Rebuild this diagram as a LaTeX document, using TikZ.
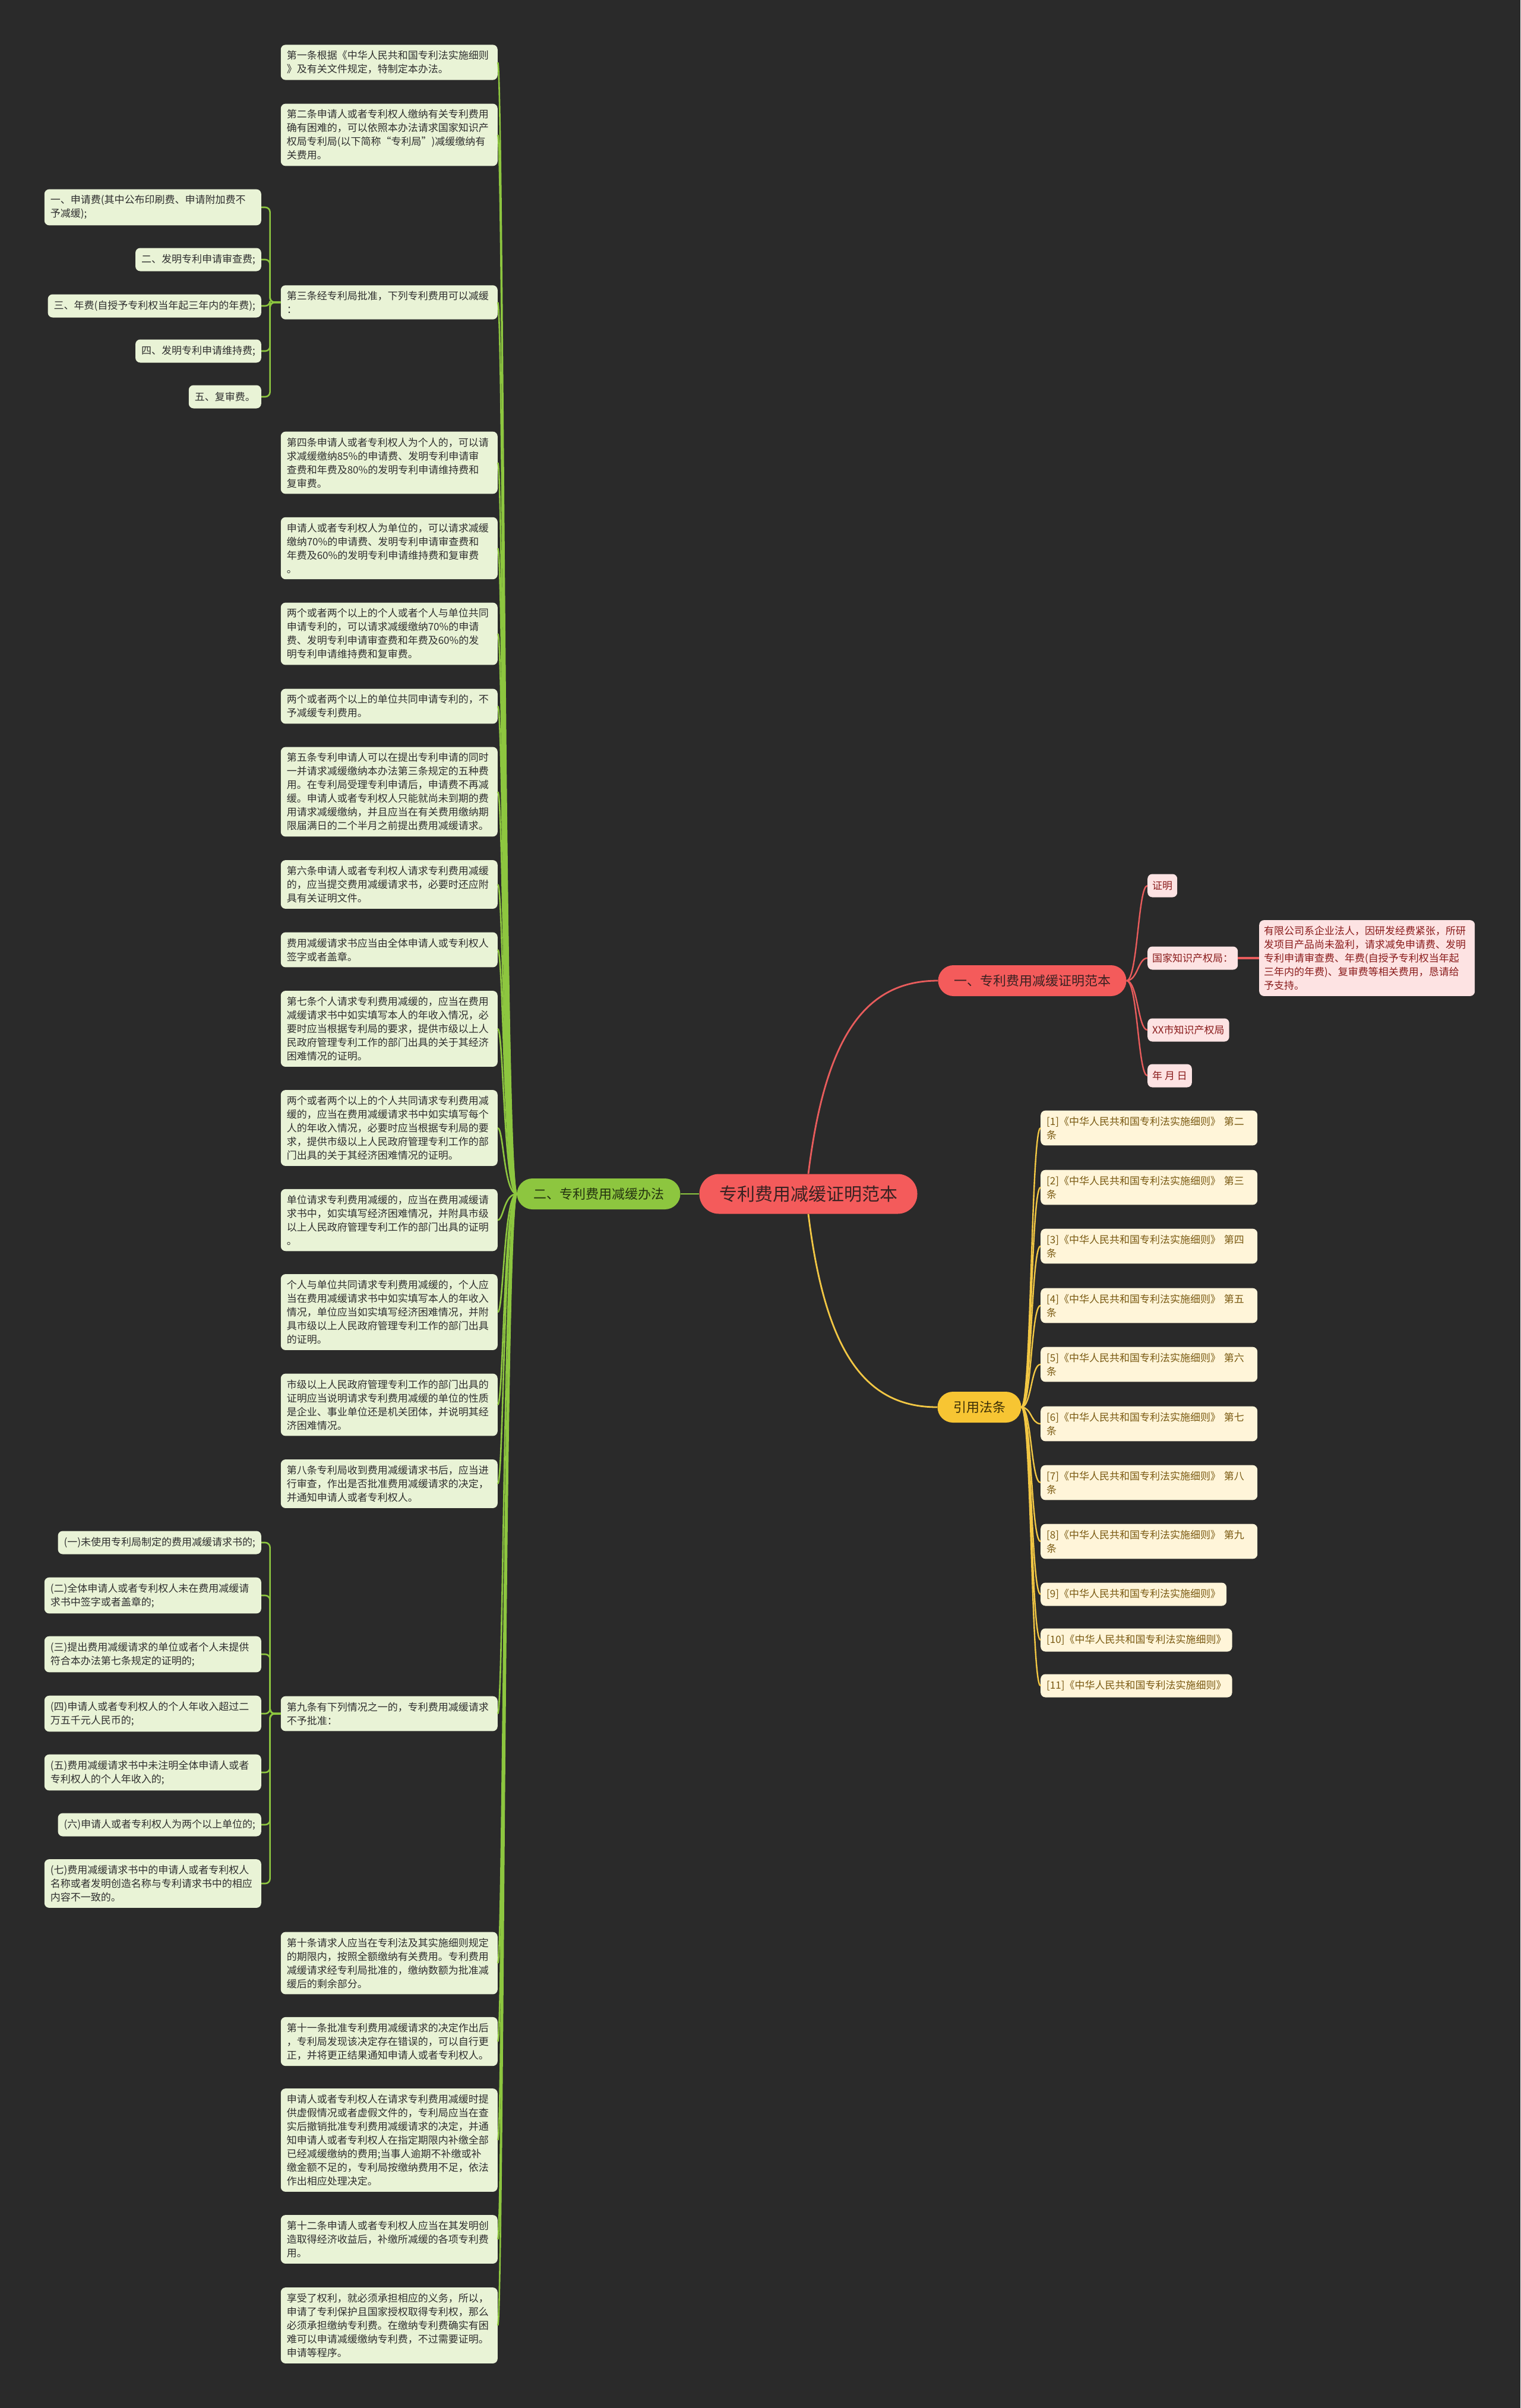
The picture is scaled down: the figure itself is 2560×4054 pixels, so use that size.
\documentclass[tikz,border=0pt]{standalone}
\usepackage{fontspec}
\usepackage{tikz}
\usetikzlibrary{calc}
\newfontfamily\cjk{Noto Sans CJK SC}
\definecolor{BgGray}{HTML}{2A2A2A}
\definecolor{RootRed}{HTML}{F45B5B}
\definecolor{RootText}{HTML}{3A2222}
\definecolor{LineRed}{HTML}{E85C5C}
\definecolor{PinkFill}{HTML}{FDE3E3}
\definecolor{PinkText}{HTML}{8A1C1C}
\definecolor{BranchGreen}{HTML}{8DC63F}
\definecolor{BranchText}{HTML}{24330F}
\definecolor{LeafGreen}{HTML}{E9F3D6}
\definecolor{LeafText}{HTML}{2F2F2F}
\definecolor{BranchGold}{HTML}{F7C533}
\definecolor{GoldText}{HTML}{3B2E06}
\definecolor{CreamFill}{HTML}{FFF5D9}
\definecolor{CreamText}{HTML}{7A5A12}
\definecolor{LineGold}{HTML}{F2C744}

\begin{document}
\begin{tikzpicture}[x=1pt,y=-1pt,
  leaf/.style={fill=LeafGreen,text=LeafText,rounded corners=8pt,inner xsep=10pt,
    inner ysep=10pt,align=left,font=\cjk\fontsize{17}{23}\selectfont},
  leafw/.style={leaf,text width=345pt},
  leafs/.style={leaf,minimum height=39pt},
  pink/.style={fill=PinkFill,text=PinkText,rounded corners=8pt,inner xsep=8pt,
    inner ysep=10pt,align=left,minimum height=39pt,font=\cjk\fontsize{17}{23}\selectfont},
  cream/.style={fill=CreamFill,text=CreamText,rounded corners=8pt,inner xsep=10pt,
    inner ysep=10pt,align=left,minimum height=39pt,font=\cjk\fontsize{17}{23}\selectfont},
  creamw/.style={cream,text width=345pt},
  pill/.style={rounded corners=26pt,minimum height=52pt,inner sep=0pt,
    font=\cjk\fontsize{22}{26}\selectfont},
  greenline/.style={BranchGreen,line width=2.6pt},
  redline/.style={LineRed,line width=2.4pt},
  goldline/.style={LineGold,line width=2.4pt}]

  % canvas
  \fill[BgGray] (0,0) rectangle (2560,4054);
  \useasboundingbox (0,0) rectangle (2560,4054);

  % centre and main branches
  \node[fill=RootRed,text=RootText,rounded corners=33pt,minimum width=367pt,
    minimum height=67pt,inner sep=0pt,font=\cjk\fontsize{30}{34}\selectfont]
    (root) at (1361,2010) {专利费用减缓证明范本};
  \node[pill,fill=BranchGreen,text=BranchText,minimum width=275pt] (gb) at (1008,2010) {二、专利费用减缓办法};
  \node[pill,fill=RootRed,text=RootText,minimum width=317pt] (rb) at (1738,1651) {一、专利费用减缓证明范本};
  \node[pill,fill=BranchGold,text=GoldText,minimum width=141pt] (yb) at (1649,2369) {引用法条};

  \draw[greenline] (root.west) -- (gb.east);
  \draw[redline,line width=2.8pt] (root.north) .. controls ($(root.north)+(29,-236)$) and ($(rb.west)+(-120,0)$) .. (rb.west);
  \draw[goldline,line width=2.8pt] (root.south) .. controls ($(root.south)+(29,236)$) and ($(yb.west)+(-120,0)$) .. (yb.west);

  % left branch: articles
  \node[leafw,anchor=east] (l1) at (838,105) {第一条根据《中华人民共和国专利法实施细则\\》及有关文件规定，特制定本办法。};
  \node[leafw,anchor=east] (l2) at (838,227) {第二条申请人或者专利权人缴纳有关专利费用\\确有困难的，可以依照本办法请求国家知识产\\权局专利局(以下简称“专利局”)减缓缴纳有\\关费用。};
  \node[leafw,anchor=east] (l3) at (838,509) {第三条经专利局批准，下列专利费用可以减缓\\：};
  \node[leafw,anchor=east] (l4) at (838,779) {第四条申请人或者专利权人为个人的，可以请\\求减缓缴纳85\%的申请费、发明专利申请审\\查费和年费及80\%的发明专利申请维持费和\\复审费。};
  \node[leafw,anchor=east] (l5) at (838,923) {申请人或者专利权人为单位的，可以请求减缓\\缴纳70\%的申请费、发明专利申请审查费和\\年费及60\%的发明专利申请维持费和复审费\\。};
  \node[leafw,anchor=east] (l6) at (838,1067) {两个或者两个以上的个人或者个人与单位共同\\申请专利的，可以请求减缓缴纳70\%的申请\\费、发明专利申请审查费和年费及60\%的发\\明专利申请维持费和复审费。};
  \node[leafw,anchor=east] (l7) at (838,1189) {两个或者两个以上的单位共同申请专利的，不\\予减缓专利费用。};
  \node[leafw,anchor=east] (l8) at (838,1333) {第五条专利申请人可以在提出专利申请的同时\\一并请求减缓缴纳本办法第三条规定的五种费\\用。在专利局受理专利申请后，申请费不再减\\缓。申请人或者专利权人只能就尚未到期的费\\用请求减缓缴纳，并且应当在有关费用缴纳期\\限届满日的二个半月之前提出费用减缓请求。};
  \node[leafw,anchor=east] (l9) at (838,1489) {第六条申请人或者专利权人请求专利费用减缓\\的，应当提交费用减缓请求书，必要时还应附\\具有关证明文件。};
  \node[leafw,anchor=east] (l10) at (838,1599) {费用减缓请求书应当由全体申请人或专利权人\\签字或者盖章。};
  \node[leafw,anchor=east] (l11) at (838,1732) {第七条个人请求专利费用减缓的，应当在费用\\减缓请求书中如实填写本人的年收入情况，必\\要时应当根据专利局的要求，提供市级以上人\\民政府管理专利工作的部门出具的关于其经济\\困难情况的证明。};
  \node[leafw,anchor=east] (l12) at (838,1899) {两个或者两个以上的个人共同请求专利费用减\\缓的，应当在费用减缓请求书中如实填写每个\\人的年收入情况，必要时应当根据专利局的要\\求，提供市级以上人民政府管理专利工作的部\\门出具的关于其经济困难情况的证明。};
  \node[leafw,anchor=east] (l13) at (838,2054) {单位请求专利费用减缓的，应当在费用减缓请\\求书中，如实填写经济困难情况，并附具市级\\以上人民政府管理专利工作的部门出具的证明\\。};
  \node[leafw,anchor=east] (l14) at (838,2209) {个人与单位共同请求专利费用减缓的，个人应\\当在费用减缓请求书中如实填写本人的年收入\\情况，单位应当如实填写经济困难情况，并附\\具市级以上人民政府管理专利工作的部门出具\\的证明。};
  \node[leafw,anchor=east] (l15) at (838,2365) {市级以上人民政府管理专利工作的部门出具的\\证明应当说明请求专利费用减缓的单位的性质\\是企业、事业单位还是机关团体，并说明其经\\济困难情况。};
  \node[leafw,anchor=east] (l16) at (838,2498) {第八条专利局收到费用减缓请求书后，应当进\\行审查，作出是否批准费用减缓请求的决定，\\并通知申请人或者专利权人。};
  \node[leafw,anchor=east] (l17) at (838,2885) {第九条有下列情况之一的，专利费用减缓请求\\不予批准：};
  \node[leafw,anchor=east] (l18) at (838,3305) {第十条请求人应当在专利法及其实施细则规定\\的期限内，按照全额缴纳有关费用。专利费用\\减缓请求经专利局批准的，缴纳数额为批准减\\缓后的剩余部分。};
  \node[leafw,anchor=east] (l19) at (838,3437) {第十一条批准专利费用减缓请求的决定作出后\\，专利局发现该决定存在错误的，可以自行更\\正，并将更正结果通知申请人或者专利权人。};
  \node[leafw,anchor=east] (l20) at (838,3603) {申请人或者专利权人在请求专利费用减缓时提\\供虚假情况或者虚假文件的，专利局应当在查\\实后撤销批准专利费用减缓请求的决定，并通\\知申请人或者专利权人在指定期限内补缴全部\\已经减缓缴纳的费用;当事人逾期不补缴或补\\缴金额不足的，专利局按缴纳费用不足，依法\\作出相应处理决定。};
  \node[leafw,anchor=east] (l21) at (838,3770) {第十二条申请人或者专利权人应当在其发明创\\造取得经济收益后，补缴所减缓的各项专利费\\用。};
  \node[leafw,anchor=east] (l22) at (838,3915) {享受了权利，就必须承担相应的义务，所以，\\申请了专利保护且国家授权取得专利权，那么\\必须承担缴纳专利费。在缴纳专利费确实有困\\难可以申请减缓缴纳专利费，不过需要证明。\\申请等程序。};

  \foreach \n in {l1,l2,l3,l4,l5,l6,l7,l8,l9,l10,l11,l12,l13,l14,l15,l16,l17,l18,l19,l20,l21,l22}
    \draw[greenline] (gb.west) .. controls ($(gb.west)+(-22,0)$) and ($(\n.east)+(10,0)$) .. (\n.east);

  % fees under article three
  \node[leafw,anchor=east] (s1) at (440,349) {一、申请费(其中公布印刷费、申请附加费不\\予减缓);};
  \node[leafs,anchor=east] (s2) at (440,437) {二、发明专利申请审查费;};
  \node[leafs,anchor=east] (s3) at (440,515) {三、年费(自授予专利权当年起三年内的年费);};
  \node[leafs,anchor=east] (s4) at (440,591) {四、发明专利申请维持费;};
  \node[leafs,anchor=east] (s5) at (440,668) {五、复审费。};
  \foreach \n in {s1,s2,s3,s4,s5}
    \draw[greenline,rounded corners=8pt] (l3.west) -- ++(-18,0) |- (\n.east);

  % cases under article nine
  \node[leafs,anchor=east] (t1) at (440,2597) {(一)未使用专利局制定的费用减缓请求书的;};
  \node[leafw,anchor=east] (t2) at (440,2686) {(二)全体申请人或者专利权人未在费用减缓请\\求书中签字或者盖章的;};
  \node[leafw,anchor=east] (t3) at (440,2785) {(三)提出费用减缓请求的单位或者个人未提供\\符合本办法第七条规定的证明的;};
  \node[leafw,anchor=east] (t4) at (440,2885) {(四)申请人或者专利权人的个人年收入超过二\\万五千元人民币的;};
  \node[leafw,anchor=east] (t5) at (440,2984) {(五)费用减缓请求书中未注明全体申请人或者\\专利权人的个人年收入的;};
  \node[leafs,anchor=east] (t6) at (440,3072) {(六)申请人或者专利权人为两个以上单位的;};
  \node[leafw,anchor=east] (t7) at (440,3171) {(七)费用减缓请求书中的申请人或者专利权人\\名称或者发明创造名称与专利请求书中的相应\\内容不一致的。};
  \foreach \n in {t1,t2,t3,t4,t5,t6,t7}
    \draw[greenline,rounded corners=8pt] (l17.west) -- ++(-18,0) |- (\n.east);

  % sample certificate
  \node[pink,anchor=west] (r1) at (1932,1491) {证明};
  \node[pink,anchor=west] (r2) at (1932,1613) {国家知识产权局：};
  \node[pink,anchor=west] (r3) at (1932,1734) {XX市知识产权局};
  \node[pink,anchor=west] (r4) at (1932,1811) {年 月 日};
  \node[pink,anchor=west,text width=347pt] (rtext) at (2120,1613) {有限公司系企业法人，因研发经费紧张，所研\\发项目产品尚未盈利，请求减免申请费、发明\\专利申请审查费、年费(自授予专利权当年起\\三年内的年费)、复审费等相关费用，恳请给\\予支持。};
  \foreach \n in {r1,r2,r3,r4}
    \draw[redline] (rb.east) .. controls ($(rb.east)+(19,0)$) and ($(\n.west)+(-16,0)$) .. (\n.west);
  \draw[redline,line width=4pt] (r2.east) -- (rtext.west);

  % cited articles
  \node[creamw,anchor=west] (y1) at (1752,1899) {[1]《中华人民共和国专利法实施细则》 第二\\条};
  \node[creamw,anchor=west] (y2) at (1752,1999) {[2]《中华人民共和国专利法实施细则》 第三\\条};
  \node[creamw,anchor=west] (y3) at (1752,2098) {[3]《中华人民共和国专利法实施细则》 第四\\条};
  \node[creamw,anchor=west] (y4) at (1752,2198) {[4]《中华人民共和国专利法实施细则》 第五\\条};
  \node[creamw,anchor=west] (y5) at (1752,2297) {[5]《中华人民共和国专利法实施细则》 第六\\条};
  \node[creamw,anchor=west] (y6) at (1752,2397) {[6]《中华人民共和国专利法实施细则》 第七\\条};
  \node[creamw,anchor=west] (y7) at (1752,2496) {[7]《中华人民共和国专利法实施细则》 第八\\条};
  \node[creamw,anchor=west] (y8) at (1752,2595) {[8]《中华人民共和国专利法实施细则》 第九\\条};
  \node[cream,anchor=west] (y9) at (1752,2684) {[9]《中华人民共和国专利法实施细则》};
  \node[cream,anchor=west] (y10) at (1752,2761) {[10]《中华人民共和国专利法实施细则》};
  \node[cream,anchor=west] (y11) at (1752,2838) {[11]《中华人民共和国专利法实施细则》};
  \foreach \n in {y1,y2,y3,y4,y5,y6,y7,y8,y9,y10,y11}
    \draw[goldline] (yb.east) .. controls ($(yb.east)+(17,0)$) and ($(\n.west)+(-16,0)$) .. (\n.west);
\end{tikzpicture}
\end{document}
